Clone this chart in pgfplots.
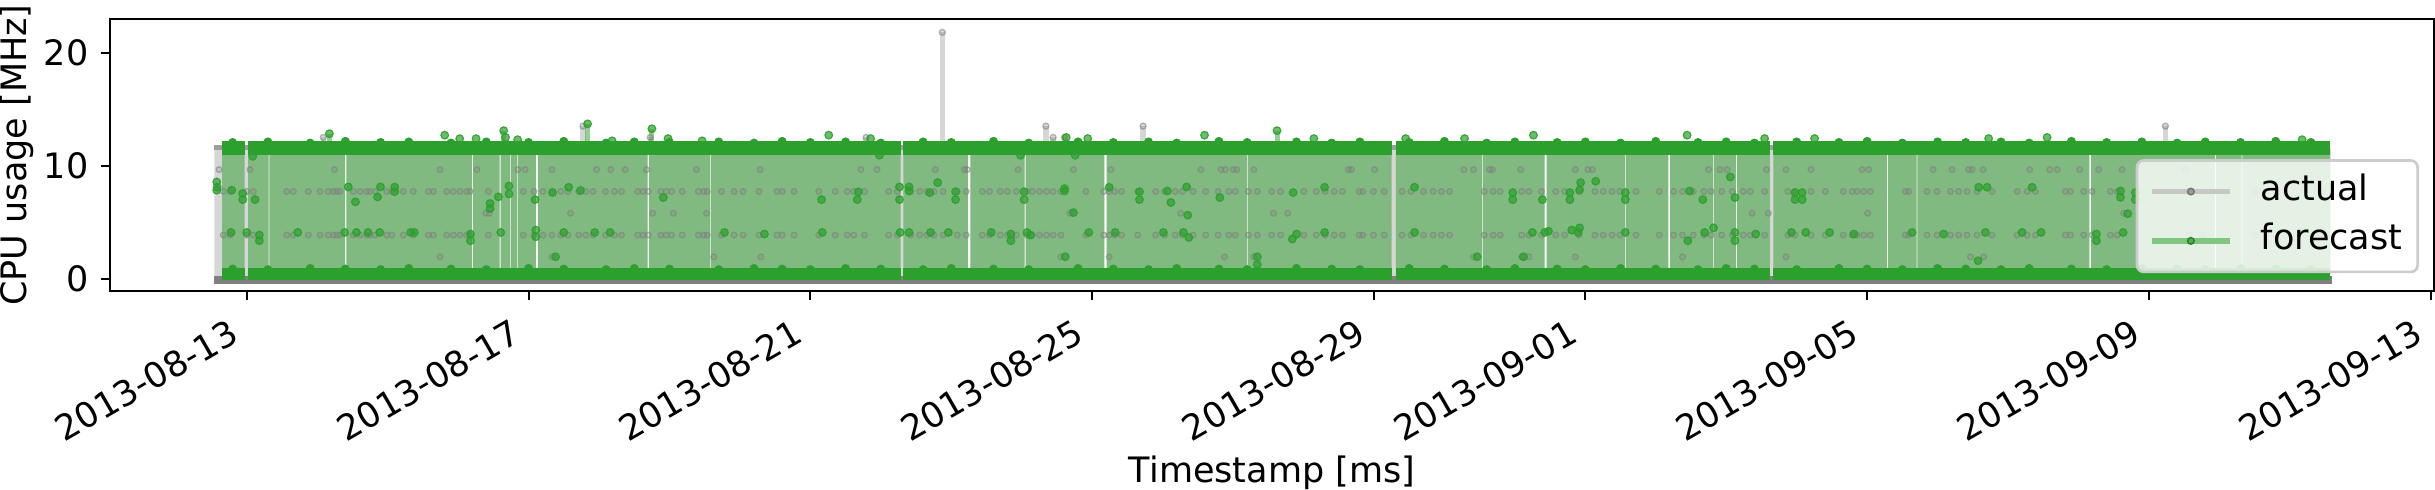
\documentclass[border=0pt]{standalone}
\usepackage{fontspec}
\setmainfont{DejaVu Sans}
\usepackage{pgfplots}
\pgfplotsset{compat=1.18}
\usepackage{pgfplotstable}
\definecolor{fgreen}{RGB}{44,160,44}
\definecolor{agray}{RGB}{128,128,128}
\definecolor{aband}{RGB}{214,214,214}

% actual: isolated levels 9.65, 5.79, 1.93
\pgfplotstableread{
x y
12.607 9.65
13.047 9.65
14.244 9.65
15.744 9.65
16.265 9.65
16.850 9.65
16.951 9.65
17.332 9.65
17.965 9.65
18.168 9.65
18.371 9.65
18.675 9.65
19.384 9.65
20.287 9.65
21.717 9.65
21.946 9.65
22.772 9.65
23.188 9.65
23.228 9.65
23.949 9.65
24.734 9.65
25.266 9.65
26.544 9.65
26.828 9.65
26.889 9.65
27.001 9.65
27.051 9.65
27.295 9.65
28.638 9.65
28.679 9.65
29.009 9.65
30.276 9.65
30.413 9.65
30.641 9.65
30.681 9.65
31.083 9.65
31.858 9.65
32.036 9.65
32.101 9.65
33.749 9.65
33.911 9.65
34.013 9.65
34.571 9.65
34.849 9.65
35.204 9.65
35.928 9.65
36.022 9.65
36.936 9.65
37.206 9.65
37.442 9.65
37.490 9.65
37.646 9.65
38.308 9.65
38.592 9.65
38.697 9.65
39.017 9.65
39.287 9.65
39.619 9.65
40.518 9.65
16.393 5.79
16.444 5.79
17.596 5.79
18.761 5.79
19.055 5.79
19.526 5.79
24.683 5.79
24.734 5.79
26.256 5.79
27.573 5.79
27.776 5.79
34.368 5.79
34.597 5.79
36.008 5.79
39.643 5.79
15.744 1.93
17.332 1.93
19.629 1.93
20.297 1.93
24.556 1.93
25.241 1.93
26.879 1.93
27.295 1.93
30.413 1.93
31.097 1.93
31.199 1.93
31.858 1.93
33.379 1.93
34.849 1.93
37.466 1.93
37.655 1.93
}\grayA

% actual: rows at 7.72 and 3.86
\pgfplotstableread{
x hi lo
12.668 7.72 3.86
12.763 7.72 3.86
13.000 7.72 3.86
13.094 7.72 3.86
13.568 7.72 3.86
13.662 7.72 3.86
13.875 7.72 3.86
14.041 7.72 3.86
14.158 7.72 3.86
14.229 7.72 3.86
14.278 7.72 3.86
14.325 7.72 3.86
14.513 7.72 3.86
14.609 7.72 3.86
14.704 7.72 3.86
14.750 7.72 3.86
14.822 7.72 3.86
14.988 7.72 3.86
15.059 7.72 3.86
15.223 7.72 3.86
15.365 7.72 3.86
15.578 7.72 3.86
15.649 7.72 3.86
15.839 7.72 3.86
15.933 7.72 3.86
16.028 7.72 3.86
16.123 7.72 3.86
16.170 7.72 3.86
16.430 7.72 3.86
16.925 7.72 3.86
17.077 7.72 3.86
17.205 7.72 3.86
17.332 7.72 3.86
17.458 7.72 3.86
17.560 7.72 3.86
17.712 7.72 3.86
17.813 7.72 3.86
17.915 7.72 3.86
18.093 7.72 3.86
18.219 7.72 3.86
18.320 7.72 3.86
18.548 7.72 3.86
18.625 7.72 3.86
18.700 7.72 3.86
18.878 7.72 3.86
18.954 7.72 3.86
19.030 7.72 3.86
19.181 7.72 3.86
19.410 7.72 3.86
19.487 7.72 3.86
19.536 7.72 3.86
19.739 7.72 3.86
19.917 7.72 3.86
20.045 7.72 3.86
20.272 7.72 3.86
20.526 7.72 3.86
20.601 7.72 3.86
20.769 7.72 3.86
21.119 7.72 3.86
21.352 7.72 3.86
21.524 7.72 3.86
21.616 7.72 3.86
21.768 7.72 3.86
22.113 7.72 3.86
22.234 7.72 3.86
22.427 7.72 3.86
22.553 7.72 3.86
22.655 7.72 3.86
22.756 7.72 3.86
22.884 7.72 3.86
23.085 7.72 3.86
23.213 7.72 3.86
23.440 7.72 3.86
23.543 7.72 3.86
23.695 7.72 3.86
23.795 7.72 3.86
23.923 7.72 3.86
24.075 7.72 3.86
24.150 7.72 3.86
24.252 7.72 3.86
24.353 7.72 3.86
24.446 7.72 3.86
24.556 7.72 3.86
24.911 7.72 3.86
25.165 7.72 3.86
25.241 7.72 3.86
25.318 7.72 3.86
25.418 7.72 3.86
25.647 7.72 3.86
25.901 7.72 3.86
26.027 7.72 3.86
26.179 7.72 3.86
26.280 7.72 3.86
26.433 7.72 3.86
26.611 7.72 3.86
26.788 7.72 3.86
26.940 7.72 3.86
27.031 7.72 3.86
27.218 7.72 3.86
27.344 7.72 3.86
27.548 7.72 3.86
27.675 7.72 3.86
28.005 7.72 3.86
28.182 7.72 3.86
28.308 7.72 3.86
28.435 7.72 3.86
28.551 7.72 3.86
28.790 7.72 3.86
28.841 7.72 3.86
28.993 7.72 3.86
29.145 7.72 3.86
29.399 7.72 3.86
29.525 7.72 3.86
29.703 7.72 3.86
29.840 7.72 3.86
29.957 7.72 3.86
30.073 7.72 3.86
30.565 7.72 3.86
30.692 7.72 3.86
30.793 7.72 3.86
31.097 7.72 3.86
31.199 7.72 3.86
31.377 7.72 3.86
31.580 7.72 3.86
31.706 7.72 3.86
31.909 7.72 3.86
32.136 7.72 3.86
32.254 7.72 3.86
32.380 7.72 3.86
32.491 7.72 3.86
32.720 7.72 3.86
33.049 7.72 3.86
33.252 7.72 3.86
33.379 7.72 3.86
33.532 7.72 3.86
33.684 7.72 3.86
33.785 7.72 3.86
33.937 7.72 3.86
34.088 7.72 3.86
34.242 7.72 3.86
34.342 7.72 3.86
34.545 7.72 3.86
34.875 7.72 3.86
34.976 7.72 3.86
35.204 7.72 3.86
35.407 7.72 3.86
35.662 7.72 3.86
35.788 7.72 3.86
35.857 7.72 3.86
35.951 7.72 3.86
36.046 7.72 3.86
36.543 7.72 3.86
36.590 7.72 3.86
36.851 7.72 3.86
36.993 7.72 3.86
37.182 7.72 3.86
37.300 7.72 3.86
37.419 7.72 3.86
37.561 7.72 3.86
37.774 7.72 3.86
38.129 7.72 3.86
38.271 7.72 3.86
38.389 7.72 3.86
38.815 7.72 3.86
38.886 7.72 3.86
39.074 7.72 3.86
39.194 7.72 3.86
39.453 7.72 3.86
39.549 7.72 3.86
40.561 7.72 3.86
40.759 7.72 3.86
41.512 7.72 3.86
41.796 7.72 3.86
42.463 7.72 3.86
}\grayB

% actual: peaks above the band
\pgfplotstableread{
x y
14.086 12.5
17.773 13.5
18.727 12.5
21.792 12.5
22.873 21.8
24.343 13.5
24.446 12.5
24.607 12.5
25.723 13.5
40.234 13.5
}\grayPeaks

% forecast: points inside the band
\pgfplotstableread{
x y
12.574 8.56
12.574 7.83
12.580 8.10
12.787 7.83
12.943 7.54
12.943 7.00
13.118 7.00
13.085 10.83
12.777 4.09
13.000 4.09
13.179 3.86
13.179 3.36
13.724 4.09
14.441 8.12
14.543 6.80
14.857 7.24
14.898 8.12
15.100 8.10
15.100 7.70
14.390 4.09
14.557 4.09
14.721 4.09
14.887 4.09
15.328 4.09
15.379 4.09
16.176 3.95
16.176 3.36
16.454 6.65
16.454 6.21
16.571 7.24
16.722 8.20
16.722 7.50
16.606 4.09
17.093 7.00
17.103 4.30
17.103 3.71
17.341 7.62
17.383 1.94
17.499 4.09
17.570 8.09
17.738 7.80
17.939 4.09
18.158 4.09
18.913 7.18
19.781 4.09
20.348 3.95
21.159 7.00
21.169 4.09
21.666 7.00
21.681 7.68
21.981 10.92
22.265 8.12
22.265 7.00
22.275 4.09
22.401 8.12
22.401 7.76
22.401 4.09
22.695 7.62
22.707 4.09
22.807 8.50
22.959 4.09
23.061 7.70
23.061 7.00
23.568 4.09
23.846 3.95
23.846 3.36
23.984 10.92
24.034 7.70
24.034 7.00
24.075 4.09
24.126 3.86
24.607 7.97
24.607 7.76
24.617 1.94
24.734 5.85
24.759 10.92
24.952 4.09
25.241 8.09
25.327 4.09
25.672 7.70
25.672 7.00
26.011 4.09
26.067 7.76
26.118 6.74
26.341 8.12
26.296 4.09
26.372 3.65
26.357 5.62
26.812 7.18
27.344 1.94
27.344 1.26
27.853 7.62
27.842 3.51
27.903 3.95
28.299 8.09
28.299 4.09
29.576 8.09
29.576 4.09
30.464 1.94
30.970 7.62
30.970 7.00
31.123 1.94
31.249 4.09
31.391 7.00
31.426 4.09
31.477 4.20
31.781 7.62
31.781 7.00
31.807 4.30
31.919 4.50
31.919 7.85
31.934 8.50
31.899 4.09
32.148 8.62
32.568 7.62
32.568 7.00
32.568 4.09
33.481 7.76
33.668 7.00
33.455 3.36
33.694 4.09
33.820 4.50
34.059 9.00
34.124 7.18
34.124 4.09
34.124 3.36
34.419 3.95
34.976 7.62
34.976 7.00
35.078 7.62
35.078 7.00
34.926 4.09
35.129 4.09
35.468 4.09
35.813 3.95
36.638 4.09
37.087 3.95
37.584 8.09
37.703 8.09
37.679 4.09
37.575 1.59
38.342 8.09
38.200 4.09
38.469 4.09
39.255 3.95
39.255 3.36
39.596 7.76
39.596 7.20
39.808 7.62
39.808 7.00
39.699 5.75
39.634 4.09
}\greenMid

% forecast: peaks above the band
\pgfplotstableread{
x y
14.173 12.83
15.810 12.70
16.023 12.39
16.255 12.39
16.647 13.10
16.673 12.50
16.845 12.30
17.838 13.70
18.186 12.20
18.751 13.27
18.980 12.40
19.464 12.20
21.261 12.70
21.855 12.40
24.632 12.50
24.937 12.40
26.595 12.70
27.624 13.10
28.147 12.40
29.450 12.40
30.286 12.40
31.264 12.70
33.445 12.70
34.545 12.40
35.255 12.40
37.725 12.40
38.555 12.50
42.175 12.30
}\greenPeaks

% forecast: highs and lows along the edges of the band
\pgfplotstableread{
x hi lo
12.80 12.05 0.85
13.30 12.10 0.80
13.90 12.00 0.90
14.40 12.15 0.85
14.90 12.05 0.80
15.30 12.10 0.90
15.90 12.00 0.85
16.40 12.10 0.80
17.00 12.05 0.90
17.50 12.15 0.85
18.10 12.00 0.80
18.50 12.10 0.90
19.00 12.05 0.85
19.70 12.10 0.80
20.20 12.00 0.90
20.60 12.15 0.85
21.00 12.05 0.80
21.50 12.10 0.90
22.00 12.00 0.85
22.60 12.10 0.80
23.00 12.05 0.90
23.60 12.15 0.85
24.10 12.00 0.80
24.80 12.10 0.90
25.30 12.05 0.85
25.80 12.10 0.80
26.20 12.00 0.90
26.80 12.15 0.85
27.20 12.05 0.80
27.90 12.10 0.90
28.40 12.00 0.85
28.80 12.10 0.80
29.50 12.05 0.90
30.00 12.15 0.85
30.60 12.00 0.80
31.00 12.10 0.90
31.60 12.05 0.85
32.00 12.10 0.80
32.50 12.00 0.90
33.00 12.15 0.85
33.60 12.05 0.80
34.00 12.10 0.90
34.40 12.00 0.85
35.00 12.10 0.80
35.60 12.05 0.90
36.00 12.15 0.85
36.50 12.00 0.80
37.00 12.10 0.90
37.40 12.05 0.85
37.90 12.10 0.80
38.30 12.00 0.90
38.90 12.15 0.85
39.40 12.05 0.80
39.90 12.10 0.90
40.40 12.00 0.85
40.80 12.10 0.80
41.30 12.05 0.90
41.80 12.15 0.85
42.30 12.05 0.80
}\greenEdge

\begin{document}
\begin{tikzpicture}
\begin{axis}[
  scale only axis, width=697.2pt, height=81.6pt,
  xmin=11.059, xmax=44.047, ymin=-1.09, ymax=22.98,
  axis line style={line width=0.6pt},
  tick style={line width=0.6pt, black},
  major tick length=2.8pt,
  tick align=outside, tick pos=left,
  xtick={13,17,21,25,29,32,36,40,44},
  xticklabels={2013-08-13,2013-08-17,2013-08-21,2013-08-25,2013-08-29,2013-09-01,2013-09-05,2013-09-09,2013-09-13},
  ytick={0,10,20},
  /pgf/number format/assume math mode=true,
  tick label style={font=\fontsize{10.5}{12.6}\selectfont},
  xticklabel style={xshift=-5.6pt, yshift=-5.1pt, rotate=30, anchor=north east, inner sep=0pt},
  yticklabel style={xshift=-3.5pt, anchor=east, inner sep=0pt},
  xlabel={Timestamp [ms]}, ylabel={CPU usage [MHz]},
  label style={font=\fontsize{10.5}{12.6}\selectfont},
  xlabel style={at={(axis description cs:0.5,0)}, anchor=base, inner sep=0pt, yshift=-57.3pt},
  ylabel style={at={(axis description cs:-0.03584,0.5)}, anchor=base, inner sep=0pt},
  legend style={at={(0.9935,0.4845)}, anchor=north east, draw=black!20, line width=0.8pt,
    rounded corners=2pt, fill=white, fill opacity=0.8, draw opacity=1, text opacity=1,
    font=\fontsize{10.5}{12.6}\selectfont, inner xsep=3.6pt, inner ysep=2.3pt, row sep=0.8pt,
    /tikz/every odd column/.append style={column sep=7.4pt}},
  legend cell align=left,
  legend image code/.code={\draw[mark repeat=2,mark phase=2,#1] plot coordinates {(0pt,0pt) (11.75pt,0pt) (23.5pt,0pt)};},
  unbounded coords=jump,
]
\addlegendimage{color=black!22, line width=1.6pt, mark=*, mark size=1pt, mark options={fill=black!40, draw=black!55, line width=0.4pt, fill opacity=1}}
\addlegendentry[inner xsep=1pt, inner ysep=2pt, text height=0.76em, text depth=0.24em]{actual}
\addlegendimage{color=fgreen!60, line width=1.6pt, mark=*, mark size=1pt, mark options={fill=fgreen!85, draw=fgreen!80!black, line width=0.4pt, fill opacity=1}}
\addlegendentry[inner xsep=1pt, inner ysep=2pt, text height=0.76em, text depth=0.24em]{forecast}

% ---- actual ----
\addplot[forget plot, fill=aband, draw=none] coordinates {
(12.540,0) (12.540,11.58) (13.309,11.58) (13.309,0)
(13.321,0) (13.321,11.58) (14.3975,11.58) (14.3975,0)
(14.4125,0) (14.4125,11.58) (16.200,11.58) (16.200,0)
(16.212,0) (16.212,11.58) (16.590,11.58) (16.590,0)
(16.602,0) (16.602,11.58) (16.742,11.58) (16.742,0)
(16.754,0) (16.754,11.58) (16.833,11.58) (16.833,0)
(16.845,0) (16.845,11.58) (17.103,11.58) (17.103,0)
(17.133,0) (17.133,11.58) (18.690,11.58) (18.690,0)
(18.710,0) (18.710,11.58) (19.581,11.58) (19.581,0)
(19.593,0) (19.593,11.58) (23.2355,11.58) (23.2355,0)
(23.2705,0) (23.2705,11.58) (24.043,11.58) (24.043,0)
(24.055,0) (24.055,11.58) (25.175,11.58) (25.175,0)
(25.205,0) (25.205,11.58) (27.202,11.58) (27.202,0)
(27.214,0) (27.214,11.58) (30.532,11.58) (30.532,0)
(30.544,0) (30.544,11.58) (31.422,11.58) (31.422,0)
(31.452,0) (31.452,11.58) (32.561,11.58) (32.561,0)
(32.573,0) (32.573,11.58) (33.1775,11.58) (33.1775,0)
(33.2025,0) (33.2025,11.58) (33.813,11.58) (33.813,0)
(33.825,0) (33.825,11.58) (34.1405,11.58) (34.1405,0)
(34.1555,0) (34.1555,11.58) (36.285,11.58) (36.285,0)
(36.297,0) (36.297,11.58) (36.702,11.58) (36.702,0)
(36.714,0) (36.714,11.58) (39.1555,11.58) (39.1555,0)
(39.1805,0) (39.1805,11.58) (40.937,11.58) (40.937,0)
(40.949,0) (40.949,11.58) (41.316,11.58) (41.316,0)
(41.328,0) (41.328,11.58) (42.575,11.58) (42.575,0)
};
\addplot[forget plot, color=aband, line width=1.6pt] coordinates {
(14.086,11.58) (14.086,12.5) (14.086,nan)
(17.773,11.58) (17.773,13.5) (17.773,nan)
(18.727,11.58) (18.727,12.5) (18.727,nan)
(21.792,11.58) (21.792,12.5) (21.792,nan)
(22.873,11.58) (22.873,21.8) (22.873,nan)
(24.343,11.58) (24.343,13.5) (24.343,nan)
(24.446,11.58) (24.446,12.5) (24.446,nan)
(24.607,11.58) (24.607,12.5) (24.607,nan)
(25.723,11.58) (25.723,13.5) (25.723,nan)
(40.234,11.58) (40.234,13.5)
};
\addplot[forget plot, color=black!38, line width=1.6pt] coordinates {(12.540,11.6) (42.575,11.6)};
\addplot[forget plot, color=agray, line width=2.4pt] coordinates {(12.540,-0.08) (42.600,-0.08)};
\addplot[forget plot, only marks, mark=*, mark size=0.85pt,
  mark options={draw=agray, draw opacity=0.6, fill=agray, fill opacity=0.22, line width=0.4pt}]
  table[x=x,y=y]{\grayA};
\addplot[forget plot, only marks, mark=*, mark size=0.85pt,
  mark options={draw=agray, draw opacity=0.6, fill=agray, fill opacity=0.22, line width=0.4pt}]
  table[x=x,y=hi]{\grayB};
\addplot[forget plot, only marks, mark=*, mark size=0.85pt,
  mark options={draw=agray, draw opacity=0.6, fill=agray, fill opacity=0.22, line width=0.4pt}]
  table[x=x,y=lo]{\grayB};
\addplot[forget plot, only marks, mark=*, mark size=0.9pt,
  mark options={draw=agray, draw opacity=0.55, fill=agray, fill opacity=0.3, line width=0.4pt}]
  table[x=x,y=y]{\grayPeaks};

% ---- forecast ----
\addplot[forget plot, fill=fgreen, fill opacity=0.5, draw=none] coordinates {
(12.649,0.45) (12.649,11.5) (12.970,11.5) (12.970,0.45)
(13.020,0.45) (13.020,11.5) (13.309,11.5) (13.309,0.45)
(13.321,0.45) (13.321,11.5) (14.3975,11.5) (14.3975,0.45)
(14.4125,0.45) (14.4125,11.5) (16.200,11.5) (16.200,0.45)
(16.212,0.45) (16.212,11.5) (16.590,11.5) (16.590,0.45)
(16.602,0.45) (16.602,11.5) (16.742,11.5) (16.742,0.45)
(16.754,0.45) (16.754,11.5) (16.833,11.5) (16.833,0.45)
(16.845,0.45) (16.845,11.5) (17.103,11.5) (17.103,0.45)
(17.133,0.45) (17.133,11.5) (18.690,11.5) (18.690,0.45)
(18.710,0.45) (18.710,11.5) (19.581,11.5) (19.581,0.45)
(19.593,0.45) (19.593,11.5) (22.280,11.5) (22.280,0.45)
(22.320,0.45) (22.320,11.5) (23.2355,11.5) (23.2355,0.45)
(23.2705,0.45) (23.2705,11.5) (24.043,11.5) (24.043,0.45)
(24.055,0.45) (24.055,11.5) (25.175,11.5) (25.175,0.45)
(25.205,0.45) (25.205,11.5) (27.202,11.5) (27.202,0.45)
(27.214,0.45) (27.214,11.5) (29.252,11.5) (29.252,0.45)
(29.312,0.45) (29.312,11.5) (30.532,11.5) (30.532,0.45)
(30.544,0.45) (30.544,11.5) (31.422,11.5) (31.422,0.45)
(31.452,0.45) (31.452,11.5) (32.561,11.5) (32.561,0.45)
(32.573,0.45) (32.573,11.5) (33.1775,11.5) (33.1775,0.45)
(33.2025,0.45) (33.2025,11.5) (33.813,11.5) (33.813,0.45)
(33.825,0.45) (33.825,11.5) (34.1405,11.5) (34.1405,0.45)
(34.1555,0.45) (34.1555,11.5) (34.620,11.5) (34.620,0.45)
(34.670,0.45) (34.670,11.5) (36.285,11.5) (36.285,0.45)
(36.297,0.45) (36.297,11.5) (36.702,11.5) (36.702,0.45)
(36.714,0.45) (36.714,11.5) (39.1555,11.5) (39.1555,0.45)
(39.1805,0.45) (39.1805,11.5) (40.937,11.5) (40.937,0.45)
(40.949,0.45) (40.949,11.5) (41.316,11.5) (41.316,0.45)
(41.328,0.45) (41.328,11.5) (42.575,11.5) (42.575,0.45)
};
\addplot[forget plot, color=fgreen, opacity=0.5, line width=1.5pt] coordinates {
(14.173,11.6) (14.173,12.83) (14.173,nan)
(16.647,11.6) (16.647,13.10) (16.647,nan)
(17.838,11.6) (17.838,13.70) (17.838,nan)
(18.751,11.6) (18.751,13.27) (18.751,nan)
(27.624,11.6) (27.624,13.10)
};
\addplot[forget plot, color=fgreen, line width=4.2pt] coordinates {
(12.645,11.58) (12.970,11.58) (12.970,nan)
(13.020,11.58) (22.280,11.58) (22.280,nan)
(22.320,11.58) (29.252,11.58) (29.252,nan)
(29.312,11.58) (34.620,11.58) (34.620,nan)
(34.670,11.58) (42.575,11.58)
};
\addplot[forget plot, color=fgreen, line width=3.6pt] coordinates {
(12.645,0.45) (12.970,0.45) (12.970,nan)
(13.020,0.45) (22.280,0.45) (22.280,nan)
(22.320,0.45) (29.252,0.45) (29.252,nan)
(29.312,0.45) (34.620,0.45) (34.620,nan)
(34.670,0.45) (42.575,0.45)
};
\addplot[forget plot, only marks, mark=*, mark size=1.2pt,
  mark options={draw=fgreen, fill=fgreen, line width=0.3pt}]
  table[x=x,y=hi]{\greenEdge};
\addplot[forget plot, only marks, mark=*, mark size=1.2pt,
  mark options={draw=fgreen, fill=fgreen, line width=0.3pt}]
  table[x=x,y=lo]{\greenEdge};
\addplot[forget plot, only marks, mark=*, mark size=1.15pt,
  mark options={draw=fgreen, draw opacity=0.9, fill=fgreen, fill opacity=0.7, line width=0.35pt}]
  table[x=x,y=y]{\greenPeaks};
\addplot[forget plot, only marks, mark=*, mark size=1.15pt,
  mark options={draw=fgreen, draw opacity=0.9, fill=fgreen, fill opacity=0.7, line width=0.35pt}]
  table[x=x,y=y]{\greenMid};

\coordinate (BL) at (rel axis cs:0,0);
\coordinate (TR) at (rel axis cs:1,1);
\end{axis}
\pgfresetboundingbox
\path[use as bounding box] ([shift={(-33pt,-59.7pt)}]BL) rectangle ([shift={(0.3pt,5.7pt)}]TR);
\end{tikzpicture}
\end{document}
